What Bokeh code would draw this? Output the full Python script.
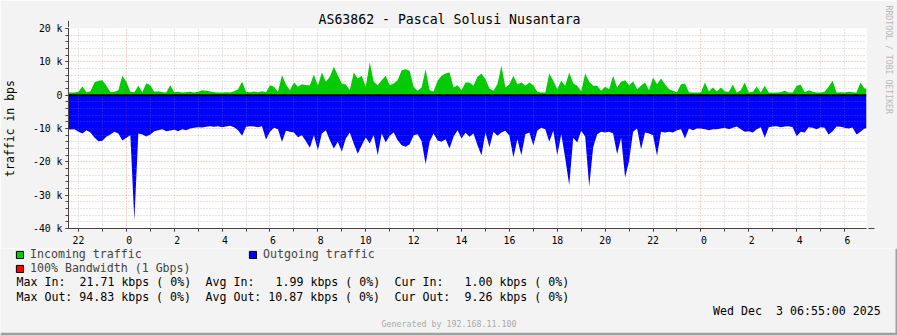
import re
import numpy as np
from bokeh.plotting import figure
from bokeh.layouts import column
from bokeh.models import (Range1d, SingleIntervalTicker, FixedTicker, Grid, Span, Label,
                          Arrow, NormalHead, Legend, LegendItem, Title, LinearAxis)
from bokeh.embed import file_html
from bokeh.resources import INLINE

# ---------------- data ----------------
TITLE = "AS63862 - Pascal Solusi Nusantara"
Y_LABEL = "traffic in bps"
WATERMARK = "RRDTOOL / TOBI OETIKER"
GENERATED = "Generated by 192.168.11.100"
DATE_TEXT = "Wed Dec  3 06:55:00 2025"

START_HOUR = 21 + 35 / 60          # Dec 1, 21:35 (hours since Dec 1 00:00)
END_HOUR = 48 + 6 + 55 / 60        # Dec 3, 06:55
STEP_HOURS = 10 / 60               # one sample every 10 minutes

INCOMING_KBPS = [
    0.8, 0.8, 1.0, 2.6, 0.9, 1.2, 3.8, 4.3, 4.5, 2.8,
    0.9, 1.0, 1.5, 5.8, 4.0, 1.0, 0.9, 2.8, 0.9, 3.6,
    3.0, 1.0, 1.2, 0.9, 0.8, 3.0, 0.9, 1.0, 0.8, 0.9,
    1.0, 0.8, 1.0, 1.5, 1.3, 1.1, 0.9, 0.8, 0.8, 0.9,
    0.8, 1.2, 1.8, 4.0, 1.0, 0.9, 1.1, 0.9, 1.2, 0.9,
    3.0, 2.5, 1.0, 6.0, 3.2, 1.5, 3.8, 2.5, 3.3, 3.0,
    3.0, 6.2, 2.8, 6.8, 4.0, 5.5, 8.5, 6.0, 3.5, 3.2,
    1.5, 6.8, 5.0, 5.8, 2.5, 9.8, 4.0, 3.0, 4.5, 5.8,
    3.0, 3.5, 4.5, 7.5, 7.8, 7.3, 2.5, 1.3, 2.3, 7.8,
    1.5, 1.1, 4.3, 5.8, 6.5, 6.8, 2.3, 3.0, 1.5, 3.8,
    3.8, 2.8, 5.5, 6.5, 4.8, 2.0, 1.3, 3.3, 8.8, 2.3,
    3.3, 5.8, 3.3, 3.8, 2.8, 3.8, 3.0, 1.0, 0.8, 0.8,
    6.5, 4.3, 1.8, 4.3, 2.8, 6.8, 3.5, 2.8, 1.2, 6.5,
    4.0, 2.8, 2.8, 1.3, 2.5, 1.8, 5.8, 2.3, 4.0, 4.5,
    3.0, 4.1, 1.8, 2.8, 3.8, 1.5, 5.3, 3.3, 5.0, 3.3,
    1.8, 1.3, 0.9, 3.3, 3.5, 0.9, 0.8, 0.8, 0.8, 3.8,
    1.1, 2.3, 1.1, 2.3, 1.1, 1.0, 3.1, 0.8, 1.5, 3.8,
    0.8, 1.0, 2.5, 0.8, 2.8, 0.8, 0.7, 0.8, 0.9, 1.3,
    0.8, 0.8, 2.8, 3.1, 0.9, 1.5, 1.0, 0.8, 0.8, 1.0,
    2.5, 4.3, 0.8, 0.9, 0.8, 1.0, 0.9, 0.8, 3.8, 2.0,
]

OUTGOING_KBPS = [
    10.3, 10.2, 11.0, 11.5, 10.5, 11.2, 12.7, 13.8, 13.7, 12.5,
    11.8, 11.0, 11.5, 13.6, 12.8, 12.0, 37.5, 11.5, 11.8, 12.4,
    11.8, 10.8, 10.5, 10.2, 10.8, 10.6, 10.4, 10.8, 10.2, 10.5,
    10.0, 9.8, 9.6, 9.7, 9.5, 9.3, 9.5, 9.3, 9.6, 9.4,
    9.2, 9.6, 10.5, 12.2, 9.5, 9.3, 9.4, 9.6, 9.3, 13.3,
    11.0, 9.8, 10.2, 14.0, 10.7, 11.0, 11.2, 12.6, 12.0, 13.8,
    15.8, 12.0, 16.5, 11.5, 10.5, 13.5, 16.0, 14.0, 17.0, 13.0,
    11.2, 14.6, 17.6, 15.0, 12.7, 14.5, 12.0, 18.0, 11.5, 14.2,
    12.2, 11.2, 13.5, 15.0, 15.5, 14.7, 12.0, 11.7, 13.8, 20.7,
    14.0, 11.5, 13.6, 14.0, 13.2, 16.0, 12.5, 10.5, 13.0, 11.3,
    12.5, 11.5, 15.0, 18.0, 11.2, 15.6, 11.0, 12.2, 11.2, 10.7,
    12.2, 18.7, 13.2, 18.0, 11.7, 11.2, 15.1, 10.6, 9.8, 10.2,
    14.0, 10.7, 18.0, 11.7, 19.0, 27.0, 12.8, 14.2, 10.7, 12.5,
    27.4, 15.6, 11.7, 11.0, 11.2, 11.0, 11.5, 17.7, 12.8, 24.7,
    19.7, 11.0, 10.0, 16.2, 11.2, 11.5, 12.0, 18.2, 11.0, 11.2,
    11.0, 11.2, 10.5, 10.2, 13.0, 10.0, 10.5, 10.0, 10.0, 10.2,
    10.5, 10.2, 10.2, 10.0, 9.8, 10.2, 9.8, 9.4, 10.2, 11.0,
    10.8, 11.2, 10.2, 9.6, 12.8, 9.6, 9.4, 9.3, 9.6, 9.4,
    9.3, 9.6, 12.3, 11.0, 11.2, 9.6, 9.8, 10.2, 9.6, 9.8,
    11.8, 10.8, 9.4, 9.5, 9.8, 10.0, 9.7, 11.8, 11.0, 10.0,
]

NB = "\u00a0"
X_TICK_HOURS = list(range(22, 55, 2))
X_TICK_LABELS = ["22", NB + "0", NB + "2", NB + "4", NB + "6", NB + "8", "10", "12",
                 "14", "16", "18", "20", "22", NB + "0", NB + "2", NB + "4", NB + "6"]
Y_TICKS = [20000, 10000, 0, -10000, -20000, -30000, -40000]
Y_TICK_LABELS = ["20 k", "10 k", "0", "-10 k", "-20 k", "-30 k", "-40 k"]

LEGEND_LABELS = ["Incoming traffic", "Outgoing traffic", "100% Bandwidth (1 Gbps)"]
LEGEND_COLORS = ["#00CC00", "#0000FF", "#FF0000"]
STAT_LINES = [
    "Max In:  21.71 kbps ( 0%)  Avg In:   1.99 kbps ( 0%)  Cur In:   1.00 kbps ( 0%)",
    "Max Out: 94.83 kbps ( 0%)  Avg Out: 10.87 kbps ( 0%)  Cur Out:  9.26 kbps ( 0%)",
]

assert len(INCOMING_KBPS) == len(OUTGOING_KBPS) == 200

# ---------------- styling ----------------
FONT = "DejaVu Sans Mono"
BG = "#F3F3F3"
W, H = 897, 335
SPLIT = 248                          # canvas row where the lower (text) figure begins
FL, FR, FT, FB = 66, 866, 28, 228    # frame edges in pixels
Y0, Y1 = -40000, 20000
AXIS_C = "#4a4242"
ARROW_C = "#7f1f1f"

def px2x(cx):
    return START_HOUR + (cx - FL) * (END_HOUR - START_HOUR) / (FR - FL)

def px2y(cy):
    return Y1 - (cy - FT) * (Y1 - Y0) / (FB - FT)

# ================= main chart =================
p = figure(width=W, height=SPLIT, output_backend="svg", toolbar_location=None,
           x_range=Range1d(START_HOUR, END_HOUR), y_range=Range1d(Y0, Y1),
           min_border_left=FL, min_border_right=W - FR, min_border_top=FT,
           min_border_bottom=SPLIT - FB,
           background_fill_color="white", border_fill_color=BG,
           outline_line_color=None)

p.title.text = TITLE
p.title.align = "left"
p.title.offset = 316 - FL
p.title.vertical_align = "middle"
p.title.standoff = 2
p.title.text_font = FONT
p.title.text_font_size = "13.2px"
p.title.text_font_style = "normal"
p.title.text_color = "black"

# blank spacer on the right so that the vertical credit sits near the canvas edge
spacer = LinearAxis(ticker=FixedTicker(ticks=[0]), axis_line_color=None,
                    major_tick_out=17, major_tick_in=0, minor_tick_out=0, minor_tick_in=0,
                    major_tick_line_color=None, minor_tick_line_color=None,
                    major_label_overrides={0: ""}, major_label_standoff=0,
                    major_label_text_font_size="1px")
p.add_layout(spacer, "right")
p.add_layout(Title(text=WATERMARK, align="left", offset=-23, vertical_align="bottom",
                   standoff=0, text_font=FONT, text_font_size="8.2px",
                   text_font_style="normal", text_color="#b8b8b8"), "right")

n = len(INCOMING_KBPS)
t = START_HOUR + STEP_HOURS * (np.arange(n) + 0.5)
tx = np.concatenate([[START_HOUR], t, [END_HOUR]])
inc = np.array(INCOMING_KBPS) * 1000.0
out = np.array(OUTGOING_KBPS) * 1000.0
inc_p = np.concatenate([[inc[0]], inc, [inc[-1]]])
out_p = np.concatenate([[out[0]], out, [out[-1]]])

p.varea(x=tx, y1=np.zeros_like(inc_p), y2=inc_p, fill_color="#00CC00")
p.varea(x=tx, y1=-out_p, y2=np.zeros_like(out_p), fill_color="#0000FF")

# grids (drawn over the areas, like rrdtool)
p.xgrid.visible = False
p.ygrid.visible = False
GRAY, GRAY_A = "#8c8c8c", 0.45
RED, RED_A = "#d02020", 0.4
hours = [h for h in range(22, 55) if h % 24 != 0]
mids = [h for h in range(22, 55) if h % 24 == 0]
ymin = [v for v in range(-38000, 20000, 2000) if v % 10000 != 0]
ymaj = [v for v in range(-30000, 20001, 10000)]
for dim, ticks, col, a in [(0, hours, GRAY, GRAY_A), (0, mids, RED, RED_A),
                           (1, ymin, GRAY, GRAY_A), (1, ymaj, RED, RED_A)]:
    p.add_layout(Grid(dimension=dim, ticker=FixedTicker(ticks=ticks), grid_line_color=col,
                      grid_line_alpha=a, grid_line_dash="1 2", grid_line_width=1,
                      level="guide"))

p.add_layout(Span(location=0, dimension="width", line_color="black", line_width=2))

xa = p.xaxis[0]
xa.ticker = SingleIntervalTicker(interval=2, num_minor_ticks=2)
xa.major_label_overrides = {h: s for h, s in zip(X_TICK_HOURS, X_TICK_LABELS)}
ya = p.yaxis[0]
ya.ticker = SingleIntervalTicker(interval=10000, num_minor_ticks=5)
ya.major_label_overrides = {v: s for v, s in zip(Y_TICKS, Y_TICK_LABELS)}
for ax in (xa, ya):
    ax.axis_line_color = AXIS_C
    ax.major_tick_in = 0
    ax.major_tick_out = 3
    ax.minor_tick_in = 0
    ax.minor_tick_out = 3
    ax.major_tick_line_color = AXIS_C
    ax.minor_tick_line_color = AXIS_C
    ax.major_label_text_font = FONT
    ax.major_label_text_font_size = "9.8px"
    ax.major_label_text_color = "black"
    ax.major_label_standoff = 3
ya.axis_label = Y_LABEL
ya.axis_label_text_font = FONT
ya.axis_label_text_font_size = "11.5px"
ya.axis_label_text_font_style = "normal"
ya.axis_label_text_color = "black"
ya.axis_label_standoff = 13

p.add_layout(Arrow(x_start=px2x(62), y_start=Y0, x_end=px2x(874), y_end=Y0,
                   line_color=AXIS_C, line_width=1,
                   end=NormalHead(size=6, fill_color=ARROW_C, line_color=ARROW_C, line_width=1)))
p.add_layout(Arrow(x_start=START_HOUR, y_start=px2y(231), x_end=START_HOUR, y_end=px2y(20.5),
                   line_color=AXIS_C, line_width=1,
                   end=NormalHead(size=6, fill_color=ARROW_C, line_color=ARROW_C, line_width=1)))

# ================= legend / statistics block =================
q = figure(width=W, height=H - SPLIT, output_backend="svg", toolbar_location=None,
           x_range=Range1d(0, W), y_range=Range1d(H, SPLIT),
           x_axis_type=None, y_axis_type=None,
           min_border_left=0, min_border_right=0, min_border_top=0, min_border_bottom=0,
           background_fill_color=BG, border_fill_color=BG, outline_line_color=None)
q.xgrid.visible = False
q.ygrid.visible = False

for f in (p, q):
    try:
        f.frame_align = False
    except Exception:
        pass

def put(text, cx, cy, size, align="left", color="black"):
    q.add_layout(Label(x=cx, y=cy, text=text, text_font=FONT, text_font_size=size,
                       text_color=color, text_align=align, text_baseline="middle"))

CW = 7.0
def put_line(line, cx0, cy):
    for m in re.finditer(r"\S+(?: \S+)*", line):
        put(m.group(), cx0 + CW * m.start(), cy, "11.6px")

put_line(STAT_LINES[0], 16, 281.7)
put_line(STAT_LINES[1], 16, 296.7)
put_line(DATE_TEXT, 880.5 - CW * len(DATE_TEXT), 310)
put(GENERATED, 448.5, 323.5, "8.3px", align="center", color="#aaaaaa")

LEG_POS = [(15, 247), (248, 247), (15, 261)]   # top-left of each legend entry (canvas px)
for lab, col, (cx, cy) in zip(LEGEND_LABELS, LEGEND_COLORS, LEG_POS):
    # legend swatch proxy (hidden renderer, only its legend glyph is shown)
    r = q.quad(left=[0], right=[1], bottom=[H], top=[H - 1], fill_color=col,
               line_color="black", line_width=1, visible=False)
    lg = Legend(items=[LegendItem(label=lab, renderers=[r])],
                location=(cx, H - cy - 14),
                glyph_width=9, glyph_height=9, label_standoff=6, label_height=14,
                label_width=10, padding=0, margin=0, spacing=0,
                border_line_color=None, background_fill_alpha=0,
                label_text_font=FONT, label_text_font_size="11.6px")
    q.add_layout(lg)

# bottom / right shade of the image frame
q.add_layout(Span(location=H - 1.5, dimension="width", line_color="#a0a0a0", line_width=2.5))
q.add_layout(Span(location=W - 1, dimension="height", line_color="#a0a0a0", line_width=2))

layout = column(p, q, spacing=0)
open("out.html", "w").write(file_html(layout, INLINE))
